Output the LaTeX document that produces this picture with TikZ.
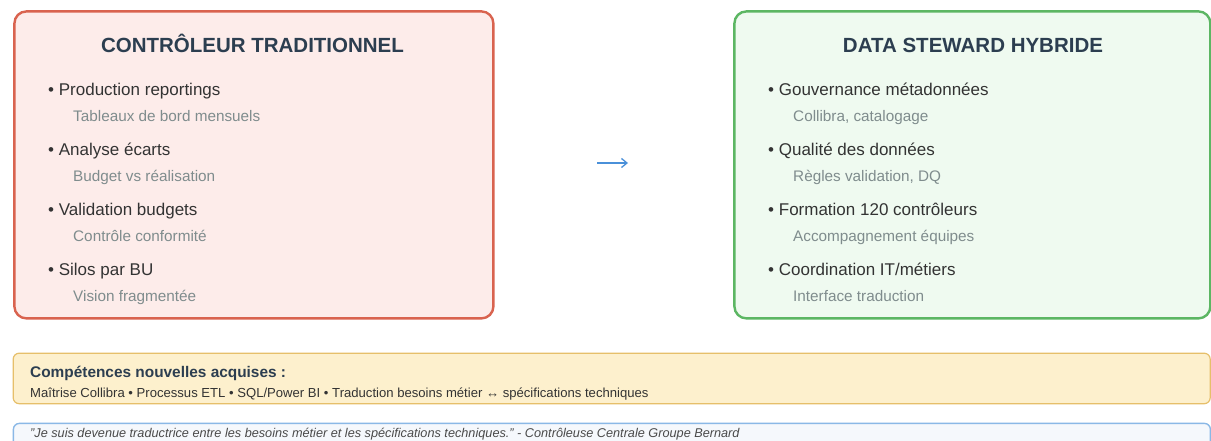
\documentclass[tikz,border=0pt]{standalone}
\usepackage{fontspec}
\setmainfont{Liberation Sans}
\usetikzlibrary{arrows.meta}

\definecolor{redline}{HTML}{D9634F}
\definecolor{redfill}{HTML}{FDECEA}
\definecolor{greenline}{HTML}{5CB663}
\definecolor{greenfill}{HTML}{EFFAF0}
\definecolor{yellowline}{HTML}{E6BF6A}
\definecolor{yellowfill}{HTML}{FDF0CD}
\definecolor{blueline}{HTML}{8AB8E6}
\definecolor{bluefill}{HTML}{F5F8FC}
\definecolor{titlec}{HTML}{2C3E50}
\definecolor{itemc}{HTML}{333333}
\definecolor{subc}{HTML}{7F8C8D}
\definecolor{quotec}{HTML}{4A4A4A}
\definecolor{arrowc}{HTML}{4A90D9}

\begin{document}
\begin{tikzpicture}[x=1pt,y=-1pt,
  panel/.style={line width=2.4pt, rounded corners=12pt, inner sep=0pt, anchor=north west},
  band/.style={rounded corners=6pt, inner sep=0pt, anchor=north west},
  paneltitle/.style={font=\fontsize{20.5}{24}\selectfont\bfseries, text=titlec, anchor=base, inner sep=0pt},
  itemtext/.style={font=\fontsize{17}{20}\selectfont, text=itemc, anchor=base west, inner sep=0pt},
  subtext/.style={font=\fontsize{15.3}{18}\selectfont, text=subc, anchor=base west, inner sep=0pt},
  bandhead/.style={font=\fontsize{15.4}{18}\selectfont\bfseries, text=titlec, anchor=base west, inner sep=0pt},
  bandtext/.style={font=\fontsize{13.1}{16}\selectfont, text=itemc, anchor=base west, inner sep=0pt},
  quotetext/.style={font=\fontsize{12.7}{16}\selectfont\itshape, text=quotec, anchor=base west, inner sep=0pt}]
\useasboundingbox (0,0) rectangle (1211,441);
\fill[white] (0,0) rectangle (1211,441);

% the two role panels
\node[panel, draw=redline, fill=redfill, minimum width=479pt, minimum height=307pt] (oldrole) at (13.2,10.2) {};
\node[panel, draw=greenline, fill=greenfill, minimum width=476pt, minimum height=307pt] (newrole) at (733.2,10.2) {};

% traditional controller
\node[paneltitle] (oldtitle) at (252.5,53) {CONTRÔLEUR TRADITIONNEL};
\node[itemtext] (o1) at (48,95.6) {• Production reportings};
\node[subtext] (o1s) at (73,121.3) {Tableaux de bord mensuels};
\node[itemtext] (o2) at (48,155.6) {• Analyse écarts};
\node[subtext] (o2s) at (73,181.3) {Budget vs réalisation};
\node[itemtext] (o3) at (48,215.6) {• Validation budgets};
\node[subtext] (o3s) at (73,241.3) {Contrôle conformité};
\node[itemtext] (o4) at (48,275.6) {• Silos par BU};
\node[subtext] (o4s) at (73,301.3) {Vision fragmentée};

% hybrid data steward
\node[paneltitle] (newtitle) at (973,53) {DATA STEWARD HYBRIDE};
\node[itemtext] (n1) at (768,95.6) {• Gouvernance métadonnées};
\node[subtext] (n1s) at (793,121.3) {Collibra, catalogage};
\node[itemtext] (n2) at (768,155.6) {• Qualité des données};
\node[subtext] (n2s) at (793,181.3) {Règles validation, DQ};
\node[itemtext] (n3) at (768,215.6) {• Formation 120 contrôleurs};
\node[subtext] (n3s) at (793,241.3) {Accompagnement équipes};
\node[itemtext] (n4) at (768,275.6) {• Coordination IT/métiers};
\node[subtext] (n4s) at (793,301.3) {Interface traduction};

% transition arrow between the panels
\coordinate (arrfrom) at (597,163);
\coordinate (arrto) at (628,163);
\draw[arrowc, line width=1.3pt, -{Straight Barb[length=5.5pt,width=9pt]}] (arrfrom) -- (arrto);

% new skills band
\node[band, draw=yellowline, line width=1.2pt, fill=yellowfill, minimum width=1197pt, minimum height=50.5pt] (skills) at (12.6,352.6) {};
\node[bandhead] (skillshead) at (30,377) {Compétences nouvelles acquises :};
\node[bandtext] (skillslist) at (30,397.5) {Maîtrise Collibra • Processus ETL • SQL/Power BI • Traduction besoins métier ↔ spécifications techniques};

% quote band
\node[band, draw=blueline, line width=1.4pt, fill=bluefill, minimum width=1197pt, minimum height=40pt] (quote) at (12.7,422.7) {};
\node[quotetext] (quotetxt) at (30,437) {"Je suis devenue traductrice entre les besoins métier et les spécifications techniques." - Contrôleuse Centrale Groupe Bernard};
\end{tikzpicture}
\end{document}
